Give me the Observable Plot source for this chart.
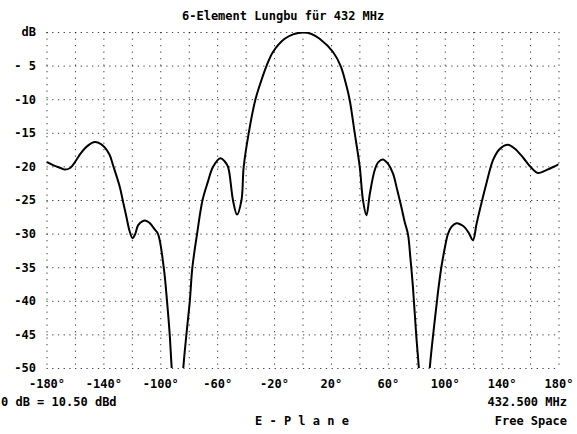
<!DOCTYPE html>
<html><head><meta charset="utf-8">
<script src="https://cdn.jsdelivr.net/npm/d3@7"></script>
<script src="https://cdn.jsdelivr.net/npm/@observablehq/plot@0.6"></script>
<style>
body{margin:0;background:#fff;}
#wrap{position:relative;width:577px;height:434px;background:#fff;font-family:"DejaVu Sans Mono",monospace;font-weight:bold;color:#000;}
.t{position:absolute;font-size:12px;line-height:12px;white-space:pre;}
#chart{position:absolute;left:0;top:24px;}
</style></head><body>
<div id="wrap">
<div class="t" style="left:182px;top:10px">6-Element Lungbu für 432 MHz</div>
<div id="chart"></div>
<div class="t" style="left:1px;top:396px">0 dB = 10.50 dBd</div>
<div class="t" style="right:10px;top:396px">432.500 MHz</div>
<div class="t" style="left:255px;top:415px">E - P l a n e</div>
<div class="t" style="right:10px;top:415px">Free Space</div>
</div>
<script>
const angles = [-180,-175,-170,-167.5,-164,-161.7,-156,-151,-146.4,-142,-139.4,-136,-133.5,-128.8,-126.5,-124.1,-122,-119.9,-118,-116,-113,-110.6,-108,-106,-104.3,-101.9,-97.9,-95.6,-93.7,-92.3,-88,-84.2,-82,-79.6,-77.8,-74.5,-70.7,-67,-63.3,-58.1,-55,-52.7,-49.2,-46.4,-43.3,-41.7,-38.2,-33.5,-30.5,-25.7,-21.1,-12.9,-6.5,0,6,11.7,21.1,26.5,30.5,32.8,36.4,39.9,42.2,44.6,47,50.4,53,56.2,60,63.3,66,69.2,71.5,73.8,75.5,77.3,79.7,81.5,85.3,89.1,92.6,95,97.3,99.5,101.9,104.5,107.8,111,113.7,116.5,119.5,122,124.2,128.9,133.6,138,144.1,149,154.7,160,165.2,170,174,178.1,180];
const gains = [-19.3,-19.8,-20.2,-20.4,-20.2,-19.7,-17.9,-16.8,-16.3,-16.6,-17.1,-18.2,-19.8,-23.0,-25.2,-27.5,-29.5,-30.6,-30.0,-28.7,-28.1,-28.0,-28.3,-28.8,-29.3,-30.0,-35.0,-40.0,-45.0,-50.0,-62,-50,-45,-40,-35,-30,-25,-22.3,-20.0,-18.7,-19.2,-20.0,-25.0,-27.1,-25.0,-20.0,-15.0,-10.0,-7.9,-5.0,-2.9,-0.94,-0.24,0,-0.22,-0.94,-2.9,-5.0,-7.9,-10.0,-15.0,-20.0,-25.0,-27.2,-24.0,-20.5,-19.3,-18.9,-19.6,-21.0,-23.2,-26.0,-28.2,-30.0,-33.5,-37.9,-45.3,-50,-62,-50,-42.9,-38.5,-34.9,-32.3,-30.0,-28.9,-28.4,-28.6,-29.0,-29.8,-30.9,-28.5,-26.5,-22.5,-19.0,-17.4,-16.7,-17.3,-18.6,-20.0,-20.9,-20.6,-20.2,-19.8,-19.6];
const xGrid = [-180,-160,-140,-120,-100,-80,-60,-40,-20,0,20,40,60,80,100,120,140,160,180];
const xTicks = [-180,-140,-100,-60,-20,20,60,100,140,180];
const xTickLabels = ["-180°","-140°","-100°","-60°","-20°","20°","60°","100°","140°","180°"];
const yTicks = [0,-5,-10,-15,-20,-25,-30,-35,-40,-45,-50];
const yTickLabels = ["dB","- 5","-10","-15","-20","-25","-30","-35","-40","-45","-50"];

const data = angles.map((a, i) => ({angle: a, gain: gains[i]}));

const plot = Plot.plot({
  width: 577, height: 370,
  marginTop: 8, marginBottom: 26, marginLeft: 46.5, marginRight: 18.5,
  style: {fontFamily: "'DejaVu Sans Mono', monospace", fontWeight: "bold", fontSize: "12px", color: "#000", background: "#fff"},
  x: {domain: [-180, 180], axis: null},
  y: {domain: [-50, 0], axis: null},
  marks: [
    Plot.ruleY(yTicks, {stroke: "#000", strokeWidth: 1, strokeOpacity: 0.75, strokeDasharray: "1.3,4.4"}),
    Plot.ruleX(xGrid, {stroke: "#000", strokeWidth: 1, strokeOpacity: 0.75, strokeDasharray: "1.3,5.2"}),
    Plot.axisX({ticks: xTicks, tickFormat: d => xTickLabels[xTicks.indexOf(d)], tickSize: 0, tickPadding: 11, label: null, fontSize: 12}),
    Plot.axisY({ticks: yTicks, tickFormat: d => yTickLabels[yTicks.indexOf(d)], tickSize: 0, tickPadding: 11, label: null, fontSize: 12}),
    Plot.line(data, {x: "angle", y: "gain", curve: "catmull-rom", stroke: "#000", strokeWidth: 2, clip: true})
  ]
});
document.getElementById("chart").appendChild(plot);
</script>
</body></html>
